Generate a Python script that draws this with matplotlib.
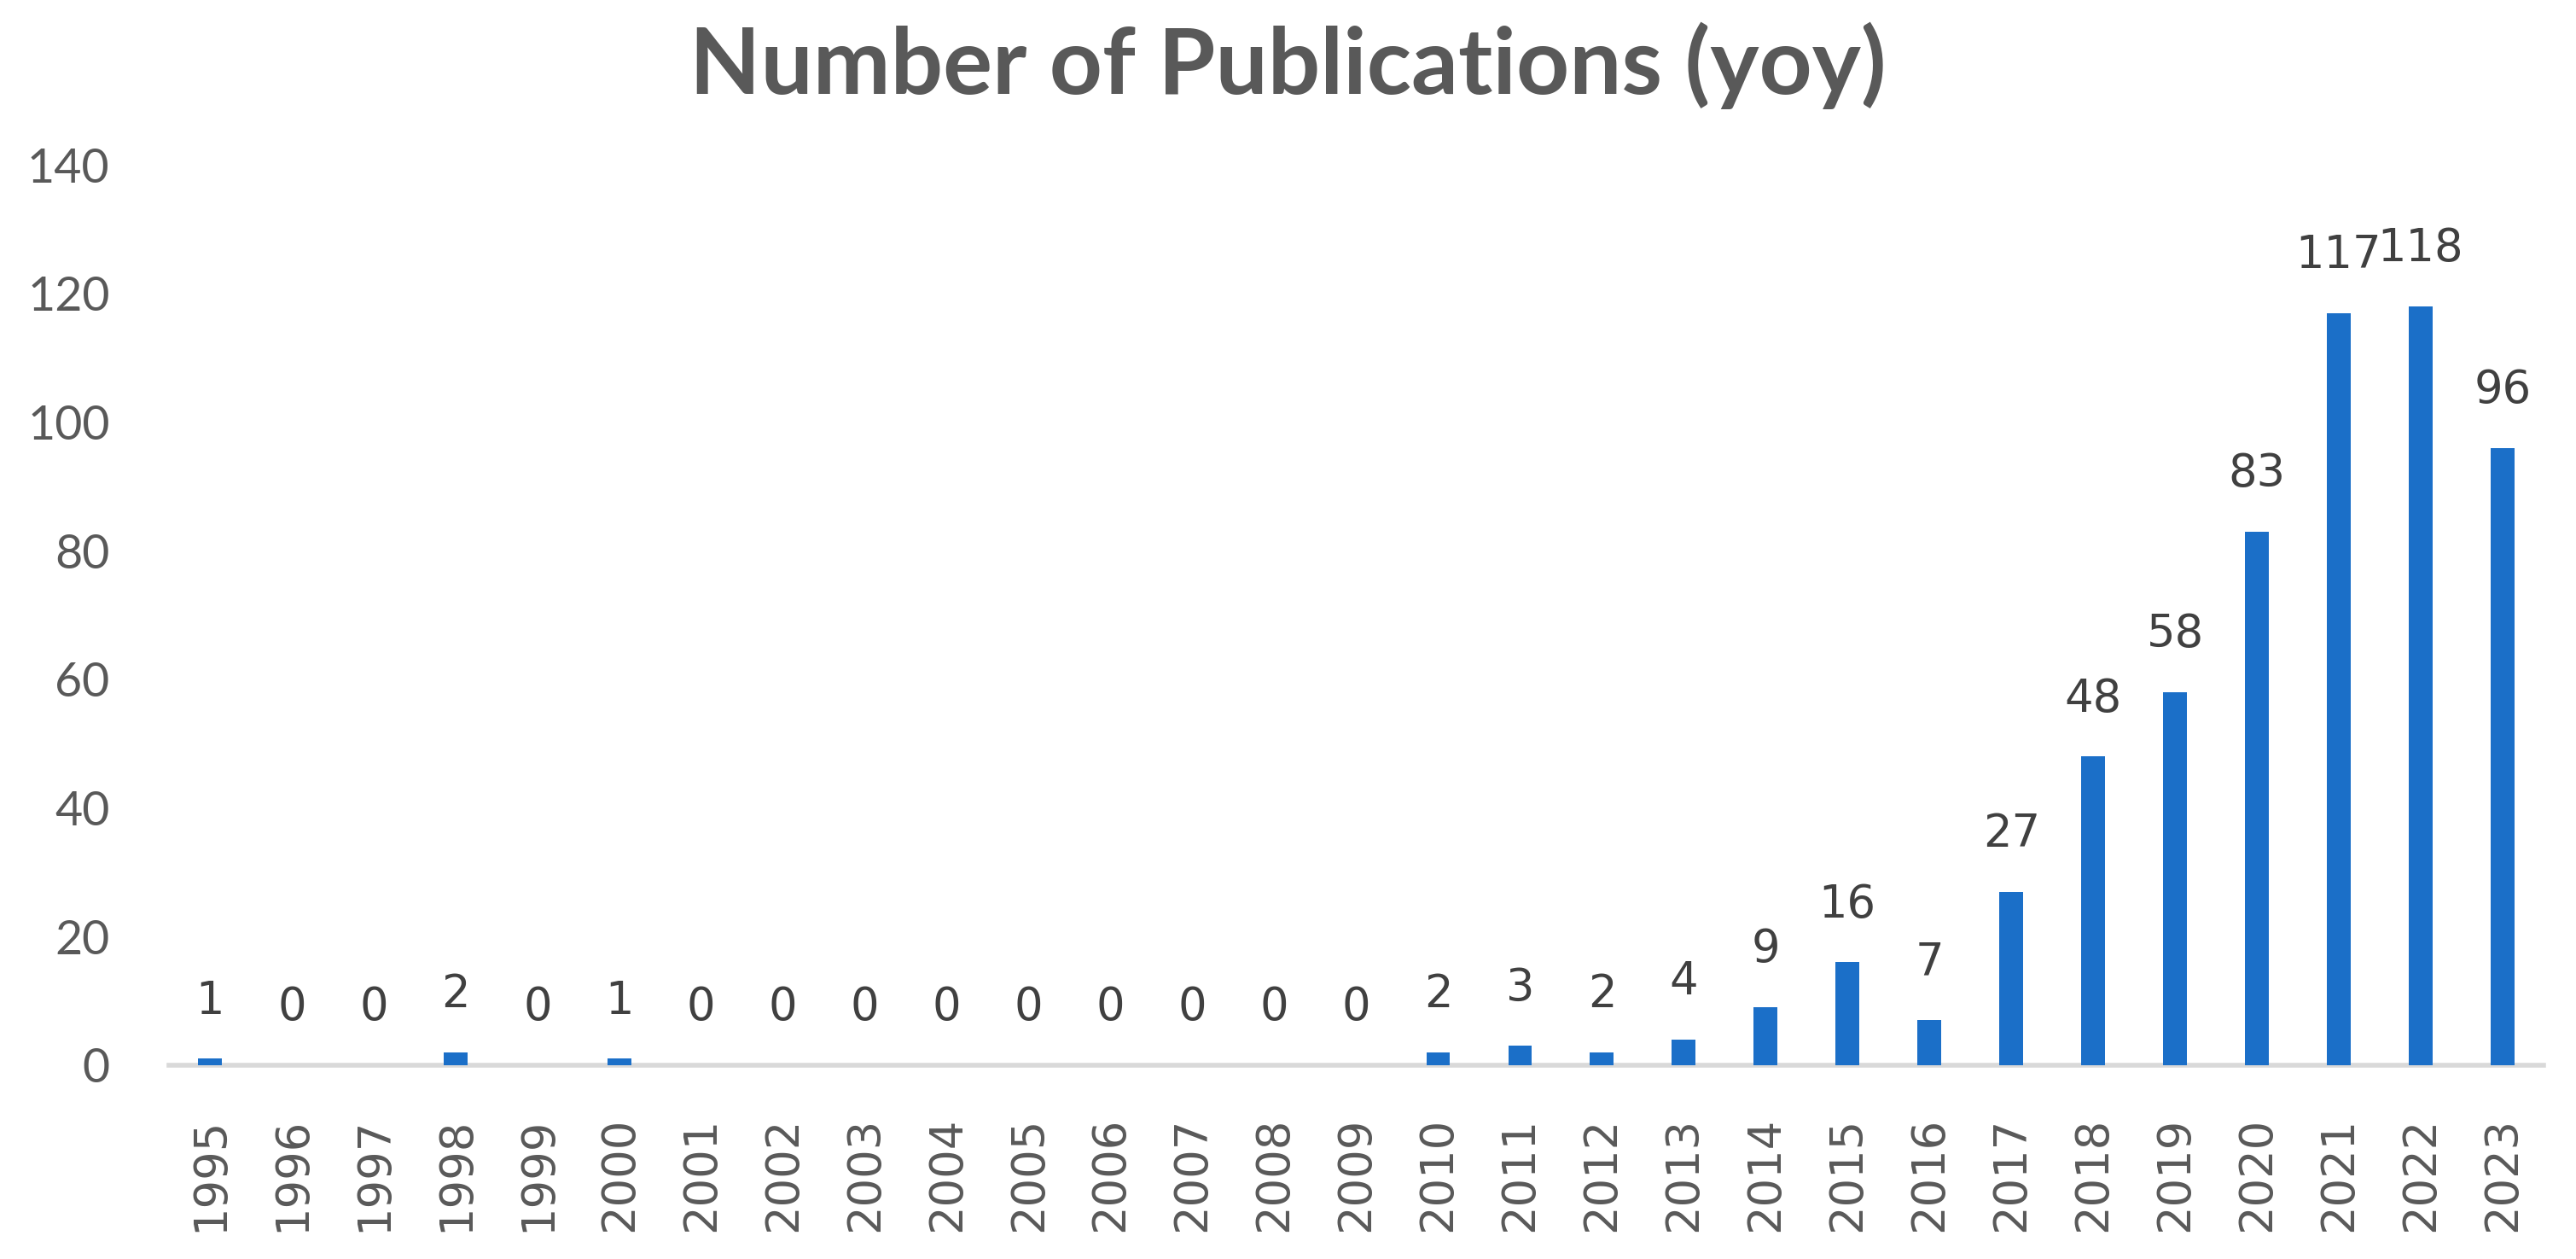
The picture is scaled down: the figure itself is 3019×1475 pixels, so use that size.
import matplotlib
matplotlib.use("Agg")
import matplotlib.pyplot as plt
import numpy as np

years = [str(y) for y in range(1995, 2024)]
counts = [1, 0, 0, 2, 0, 1, 0, 0, 0, 0, 0, 0, 0, 0, 0,
          2, 3, 2, 4, 9, 16, 7, 27, 48, 58, 83, 117, 118, 96]
yticks = [0, 20, 40, 60, 80, 100, 120, 140]

BAR = "#1B6FC8"
GRAY = "#595959"

fig = plt.figure(figsize=(30.19, 14.75), dpi=100)
ax = fig.add_axes([0.0656, 0.1539, 0.9874 - 0.0656, 0.869 - 0.1539])

x = np.arange(len(years))
ax.bar(x, counts, width=0.29, color=BAR, zorder=2)

for xi, v in zip(x, counts):
    ax.annotate(str(v), (xi, v), xytext=(0, 38), textcoords="offset points",
                ha="center", va="baseline", fontsize=38, color="#404040",
                family="DejaVu Sans")

ax.set_xlim(-0.5, len(years) - 0.5)
ax.set_ylim(0, 140)
ax.set_yticks(yticks)
ax.set_yticklabels([str(t) for t in yticks], fontsize=40, color=GRAY, family="Lato")
ax.set_xticks(x)
ax.set_xticklabels(years, rotation=90, fontsize=38, color=GRAY, family="DejaVu Sans")

for s in ["top", "right", "left"]:
    ax.spines[s].set_visible(False)
ax.spines["bottom"].set_color("#D9D9D9")
ax.spines["bottom"].set_linewidth(4)
ax.spines["bottom"].set_zorder(1)
ax.tick_params(axis="y", length=0, pad=50)
ax.tick_params(axis="x", length=0, pad=44)

fig.text(0.5, 0.948, "Number of Publications (yoy)", ha="center", va="center",
         fontsize=78, fontweight="bold", color=GRAY, family="Lato")

fig.savefig("out.png", dpi=100, facecolor="white")
